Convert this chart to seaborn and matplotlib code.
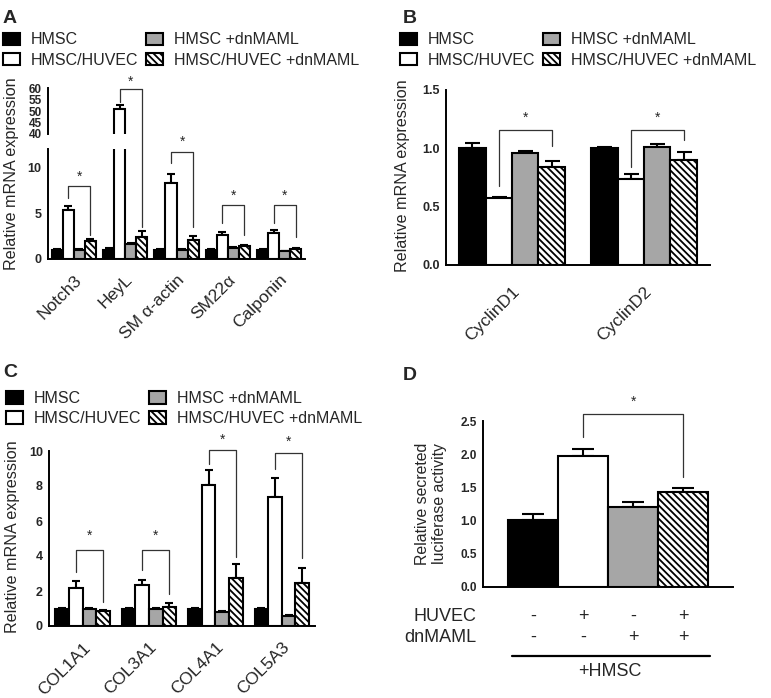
import numpy as np
import pandas as pd
import seaborn as sns
import matplotlib.pyplot as plt
from matplotlib.patches import Patch
from matplotlib.lines import Line2D
from matplotlib.transforms import blended_transform_factory

sns.set_style("white")
plt.rcParams['font.family'] = ['Liberation Sans', 'DejaVu Sans']
plt.rcParams['hatch.linewidth'] = 1.3

# groups shared by all panels
groups = ['HMSC', 'HMSC/HUVEC', 'HMSC +dnMAML', 'HMSC/HUVEC +dnMAML']
colors = ['#000000', '#ffffff', '#a6a6a6', '#ffffff']

# panel A - smooth muscle markers
genes_a = ['Notch3', 'HeyL', 'SM α-actin', 'SM22α', 'Calponin']
a_hmsc = [1.0, 1.0, 1.0, 1.0, 1.0]
a_huvec = [5.35, 51.0, 8.35, 2.65, 2.85]
a_dn = [1.0, 1.65, 1.0, 1.2, 0.8]
a_huvec_dn = [1.95, 2.4, 2.05, 1.35, 1.05]
a_hmsc_err = [0.05, 0.15, 0.05, 0.05, 0.05]
a_huvec_err = [0.5, 1.5, 1.0, 0.3, 0.3]
a_dn_err = [0.05, 0.1, 0.05, 0.05, 0.05]
a_huvec_dn_err = [0.2, 0.7, 0.45, 0.15, 0.1]

# panel B - cyclins
genes_b = ['CyclinD1', 'CyclinD2']
b_hmsc = [1.0, 1.0]
b_huvec = [0.57, 0.74]
b_dn = [0.96, 1.01]
b_huvec_dn = [0.84, 0.9]
b_hmsc_err = [0.045, 0.012]
b_huvec_err = [0.01, 0.035]
b_dn_err = [0.02, 0.03]
b_huvec_dn_err = [0.05, 0.065]

# panel C - collagens
genes_c = ['COL1A1', 'COL3A1', 'COL4A1', 'COL5A3']
c_hmsc = [1.0, 1.0, 1.0, 1.0]
c_huvec = [2.15, 2.33, 8.05, 7.4]
c_dn = [0.95, 0.95, 0.8, 0.58]
c_huvec_dn = [0.87, 1.1, 2.72, 2.47]
c_hmsc_err = [0.02, 0.02, 0.05, 0.02]
c_huvec_err = [0.4, 0.3, 0.85, 1.05]
c_dn_err = [0.08, 0.08, 0.03, 0.05]
c_huvec_dn_err = [0.03, 0.22, 0.85, 0.83]

# panel D - luciferase
d_mean = [1.0, 1.97, 1.21, 1.43]
d_err = [0.1, 0.11, 0.07, 0.06]
huvec_signs = ['-', '+', '-', '+']
dnmaml_signs = ['-', '-', '+', '+']

# significance brackets: (group, top, left end, right end, star)
a_brackets = [(0, 8.05, 6.7, 2.6, 9.5), (2, 11.8, 10.5, 3.5, 13.3),
              (3, 5.9, 3.9, 2.6, 7.4), (4, 5.9, 3.95, 2.4, 7.4)]
heyl_bracket = (1, 59.6, 54.0, 3.5, 64.6)
b_brackets = [(0, 1.16, 0.68, 1.02, 1.3), (1, 1.16, 0.835, 1.07, 1.3)]
c_brackets = [(0, 4.34, 3.1, 1.39, 5.4), (1, 4.34, 3.2, 1.83, 5.4),
              (2, 10.06, 9.26, 3.96, 10.9), (3, 9.9, 9.0, 3.87, 10.77)]

HATCH = '\\\\\\\\\\'
W, H = 771, 698
fig = plt.figure(figsize=(W / 100, H / 100), dpi=100)


def px_axes(x0, y0, x1, y1):
    return fig.add_axes([x0 / W, 1 - y1 / H, (x1 - x0) / W, (y1 - y0) / H])


def fy(y):
    return 1 - y / H


def grouped_bars(ax, cats, means, errs, width, capsize):
    rows = [(c, g, v) for g, m in zip(groups, means) for c, v in zip(cats, m)]
    df = pd.DataFrame(rows, columns=['gene', 'group', 'value'])
    sns.barplot(data=df, x='gene', y='value', hue='group', order=cats,
                hue_order=groups, palette=dict(zip(groups, colors)),
                width=width, edgecolor='black', linewidth=1.5, errorbar=None,
                saturation=1, legend=False, ax=ax, zorder=2)
    bars = list(ax.containers)[:4]
    for p in bars[3]:
        p.set_hatch(HATCH)
    for cont, e in zip(bars, errs):
        xs = [b.get_x() + b.get_width() / 2 for b in cont]
        ys = [b.get_height() for b in cont]
        ax.errorbar(xs, ys, yerr=[np.zeros(len(e)), e], fmt='none',
                    ecolor='black', elinewidth=1.5, capsize=capsize,
                    capthick=1.5, zorder=1)
    return bars


def centers(cont):
    return [b.get_x() + b.get_width() / 2 for b in cont]


def star(ax, x, y):
    ax.annotate('*', xy=(x, y), xytext=(0, -6), textcoords='offset points',
                ha='center', va='baseline', fontsize=10, annotation_clip=False)


def bracket(ax, x1, x2, top, y1, y2, ys):
    ax.plot([x1, x1, x2, x2], [y1, top, top, y2], color='#333333', lw=0.9,
            clip_on=False, zorder=5)
    star(ax, (x1 + x2) / 2, ys)


def style(ax, yticks, ylabels, fs=9, xtick_len=3.6):
    sns.despine(ax=ax)
    for s in ['left', 'bottom']:
        ax.spines[s].set_linewidth(1.4)
        ax.spines[s].set_color('black')
    ax.set_yticks(yticks)
    ax.set_yticklabels(ylabels, fontweight='bold', fontsize=fs)
    ax.tick_params(axis='y', length=3.6, width=1.3, pad=1, color='black')
    ax.tick_params(axis='x', length=xtick_len, width=1.3, color='black')
    ax.set_xlabel('')
    ax.set_ylabel('')


def rot_labels(ax, labels, pad):
    ax.set_xticklabels(labels, rotation=45, ha='right', va='top',
                       rotation_mode='anchor', fontsize=12.5)
    ax.tick_params(axis='x', pad=pad)


def panel_legend(x0, y0):
    handles = [Patch(facecolor=c, edgecolor='black', linewidth=1.5,
                     hatch=HATCH if i == 3 else None)
               for i, c in enumerate(colors)]
    fig.legend(handles, groups, loc='upper left', bbox_to_anchor=(x0 / W, fy(y0)),
               ncol=2, frameon=False, fontsize=11.5, handlelength=1.05,
               handleheight=0.82, handletextpad=0.7, columnspacing=0.5,
               labelspacing=0.32, borderpad=0, borderaxespad=0)


def ylab(x, y, text, fs=11.6):
    fig.text(x / W, fy(y), text, rotation=90, ha='center', va='center',
             fontsize=fs, linespacing=1.1)


# ---------------- panel A (broken axis) ----------------
a_means = [a_hmsc, a_huvec, a_dn, a_huvec_dn]
a_errs = [a_hmsc_err, a_huvec_err, a_dn_err, a_huvec_dn_err]
axA_top = px_axes(48, 88.3, 305, 134)
axA = px_axes(48, 149, 305, 258.7)
top_bars = grouped_bars(axA_top, genes_a, a_means, a_errs, 0.86, 3.2)
bars_a = grouped_bars(axA, genes_a, a_means, a_errs, 0.86, 3.2)
for ax in (axA_top, axA):
    ax.set_xlim(-0.5, 4.5)
axA_top.set_ylim(40, 60)
axA.set_ylim(0, 12.08)
style(axA_top, [40, 45, 50, 55, 60], ['40', '45', '50', '55', '60'], fs=8.5)
axA_top.spines['bottom'].set_visible(False)
axA_top.set_xticks([])
style(axA, [0, 5, 10], ['0', '5', '10'], xtick_len=3.2)
axA.set_xticks(range(len(genes_a)))
rot_labels(axA, genes_a, 6.5)

hx, dx = centers(bars_a[1]), centers(bars_a[3])
for g, top, y1, y2, ys in a_brackets:
    bracket(axA, hx[g], dx[g], top, y1, y2, ys)
g, top, y1, y2, ys = heyl_bracket
axA_top.plot([hx[g], hx[g], dx[g]], [y1, top, top], color='#333333', lw=0.9,
             clip_on=False)
star(axA_top, (hx[g] + dx[g]) / 2, ys)
# right leg runs across the axis break: map the top point into lower-axis data
p = axA_top.transData.transform((dx[g], top))
top_in_low = axA.transData.inverted().transform(p)[1]
axA.plot([dx[g], dx[g]], [y2, top_in_low], color='#333333', lw=0.9,
         clip_on=False, zorder=5)
ylab(12, 173.5, 'Relative mRNA expression')
fig.text(3 / W, fy(23.3), 'A', fontsize=14, fontweight='bold', va='baseline')
panel_legend(3, 32.5)

# ---------------- panel B ----------------
axB = px_axes(446, 90, 710, 264.7)
bars_b = grouped_bars(axB, genes_b, [b_hmsc, b_huvec, b_dn, b_huvec_dn],
                      [b_hmsc_err, b_huvec_err, b_dn_err, b_huvec_dn_err], 0.8, 5.4)
axB.set_xlim(-0.5, 1.5)
axB.set_ylim(0, 1.5)
style(axB, [0, 0.5, 1.0, 1.5], ['0.0', '0.5', '1.0', '1.5'], xtick_len=4.3)
axB.set_xticks(range(len(genes_b)))
rot_labels(axB, genes_b, 9.5)
hx, dx = centers(bars_b[1]), centers(bars_b[3])
for g, top, y1, y2, ys in b_brackets:
    bracket(axB, hx[g], dx[g], top, y1, y2, ys)
ylab(403, 176, 'Relative mRNA expression')
fig.text(403 / W, fy(23.3), 'B', fontsize=14, fontweight='bold', va='baseline')
panel_legend(400, 32.5)

# ---------------- panel C ----------------
axC = px_axes(49.3, 451, 315, 626)
bars_c = grouped_bars(axC, genes_c, [c_hmsc, c_huvec, c_dn, c_huvec_dn],
                      [c_hmsc_err, c_huvec_err, c_dn_err, c_huvec_dn_err], 0.82, 3.1)
axC.set_xlim(-0.5, 3.5)
axC.set_ylim(0, 10)
style(axC, [0, 2, 4, 6, 8, 10], ['0', '2', '4', '6', '8', '10'], xtick_len=4)
axC.set_xticks(range(len(genes_c)))
rot_labels(axC, genes_c, 6)
hx, dx = centers(bars_c[1]), centers(bars_c[3])
for g, top, y1, y2, ys in c_brackets:
    bracket(axC, hx[g], dx[g], top, y1, y2, ys)
ylab(13, 537, 'Relative mRNA expression')
fig.text(3.3 / W, fy(377.3), 'C', fontsize=14, fontweight='bold', va='baseline')
panel_legend(6, 391)

# ---------------- panel D ----------------
axD = px_axes(483.3, 421, 733.3, 586.7)
sns.barplot(x=groups, y=d_mean, hue=groups, palette=dict(zip(groups, colors)),
            width=1.0, edgecolor='black', linewidth=1.5, saturation=1,
            errorbar=None, legend=False, ax=axD, zorder=2)
axD.containers[3][0].set_hatch(HATCH)
xd = [c[0].get_x() + c[0].get_width() / 2 for c in list(axD.containers)[:4]]
axD.errorbar(xd, d_mean, yerr=[np.zeros(4), d_err], fmt='none', ecolor='black',
             elinewidth=1.5, capsize=7.8, capthick=1.5, zorder=1)
axD.set_xlim(-1, 4)
axD.set_ylim(0, 2.5)
style(axD, [0, 0.5, 1.0, 1.5, 2.0, 2.5], ['0.0', '0.5', '1.0', '1.5', '2.0', '2.5'],
      fs=8.5, xtick_len=4)
axD.set_xticks(xd)
axD.set_xticklabels([])
bracket(axD, xd[1], xd[3], 2.6, 2.26, 1.66, 2.85)
tr = blended_transform_factory(axD.transData, fig.transFigure)
for x, s1, s2 in zip(xd, huvec_signs, dnmaml_signs):
    axD.text(x, fy(616.7), s1, transform=tr, ha='center', va='center', fontsize=13)
    axD.text(x, fy(637.3), s2, transform=tr, ha='center', va='center', fontsize=13)
fig.text(476 / W, fy(616.7), 'HUVEC', ha='right', va='center', fontsize=13)
fig.text(476 / W, fy(637.3), 'dnMAML', ha='right', va='center', fontsize=13)
fig.add_artist(Line2D([511.7 / W, 710 / W], [fy(655.7)] * 2, color='black', lw=1.6))
fig.text(610 / W, fy(671), '+HMSC', ha='center', va='center', fontsize=13)
ylab(431, 504, 'Relative secreted\nluciferase activity', fs=11.4)
fig.text(402.7 / W, fy(380), 'D', fontsize=14, fontweight='bold', va='baseline')

fig.savefig('out.png', dpi=100)
plt.close(fig)
